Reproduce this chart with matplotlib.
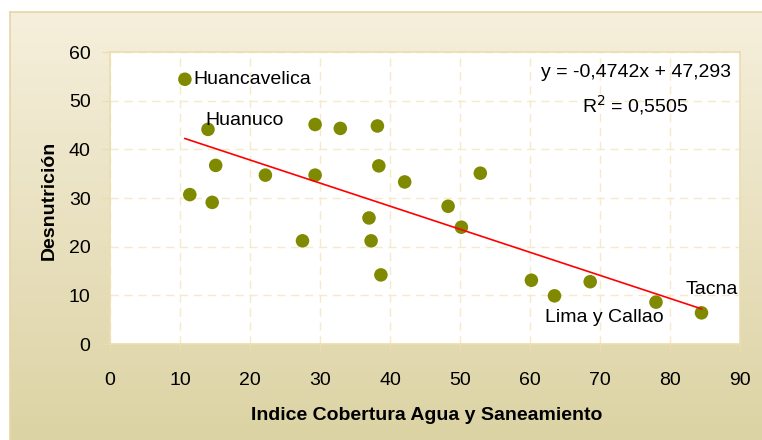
import numpy as np
import matplotlib
matplotlib.use("Agg")
import matplotlib.pyplot as plt
from matplotlib.colors import LinearSegmentedColormap

plt.rcParams['font.family'] = ['Liberation Sans', 'DejaVu Sans']

# Data
cobertura = [10.7, 14.0, 15.1, 11.4, 14.6, 22.2, 29.3, 32.9, 29.3, 38.2, 38.4, 42.1,
             27.5, 37.0, 37.3, 38.7, 48.3, 50.2, 52.9, 60.2, 63.5, 68.6, 78.0, 84.5]
desnutricion = [54.4, 44.1, 36.7, 30.7, 29.1, 34.7, 45.1, 44.3, 34.7, 44.8, 36.6, 33.3,
                21.2, 25.9, 21.2, 14.2, 28.3, 24.0, 35.1, 13.1, 9.9, 12.8, 8.6, 6.4]
labels = {0: "Huancavelica", 1: "Huanuco", 22: "Lima y Callao", 23: "Tacna"}
slope, intercept = -0.4742, 47.293
eq_text = "y = -0,4742x + 47,293"
r2_text = "R$^2$ = 0,5505"
xticks = [0, 10, 20, 30, 40, 50, 60, 70, 80, 90]
yticks = [0, 10, 20, 30, 40, 50, 60]

W, H = 762, 440
fig = plt.figure(figsize=(W / 100, H / 100), dpi=100)
fig.patch.set_facecolor('white')

# gradient background panel
bg = fig.add_axes([10 / W, 0, 1 - 10 / W, 1 - 12 / H])
cmap = LinearSegmentedColormap.from_list('bg', ['#F6EFDC', '#DCD3A4'])
grad = np.linspace(0, 1, 256).reshape(-1, 1)
bg.imshow(grad, aspect='auto', cmap=cmap, extent=[0, 1, 0, 1], origin='upper')
bg.set_xticks([]); bg.set_yticks([])
for s in bg.spines.values():
    s.set_color('#E6D6A6'); s.set_linewidth(1.2)
bg.spines['right'].set_visible(False)
bg.spines['bottom'].set_visible(False)
bg.set_zorder(0)

ax = fig.add_axes([110 / W, 1 - 344 / H, 630 / W, 292 / H])
ax.set_zorder(1)
ax.set_facecolor('white')
ax.set_xlim(0, 90)
ax.set_ylim(0, 60)
ax.set_xticks(xticks)
ax.set_yticks(yticks)
ax.grid(True, color='#F5EACB', linestyle=(0, (6, 4)), linewidth=1)
ax.set_axisbelow(True)
for s in ax.spines.values():
    s.set_color('#EBDDB0'); s.set_linewidth(1.2)
ax.tick_params(axis='both', colors='#EBDDB0', labelcolor='black', labelsize=14, length=6)
ax.tick_params(axis='x', pad=14)
ax.tick_params(axis='y', pad=8)

ax.scatter(cobertura, desnutricion, s=95, color='#7F8A00', zorder=3, edgecolors='none')

xs = np.array([min(cobertura), max(cobertura)])
ax.plot(xs, slope * xs + intercept, color='#FF0000', linewidth=1.2, zorder=4)

offsets = {0: (8, 0, 'left', 'center'), 1: (-3, 9, 'left', 'center'),
           22: (-52, -15, 'center', 'center'), 23: (10, 23, 'center', 'center')}
for i, name in labels.items():
    dx, dy, ha, va = offsets[i]
    ax.annotate(name, (cobertura[i], desnutricion[i]), xytext=(dx, dy),
                textcoords='offset pixels', ha=ha, va=va, fontsize=14, zorder=5)

ax.text(75.1, 55.7, eq_text, ha='center', va='center', fontsize=14)
ax.text(75.1, 49.1, r2_text, ha='center', va='center', fontsize=14)

ax.set_xlabel('Indice Cobertura Agua y Saneamiento', fontsize=14, fontweight='bold')
ax.set_ylabel('Desnutrición', fontsize=14, fontweight='bold')
ax.xaxis.set_label_coords(0.502, -0.215)
ax.yaxis.set_label_coords(-0.083, 0.493)

fig.savefig('out.png', dpi=100)
